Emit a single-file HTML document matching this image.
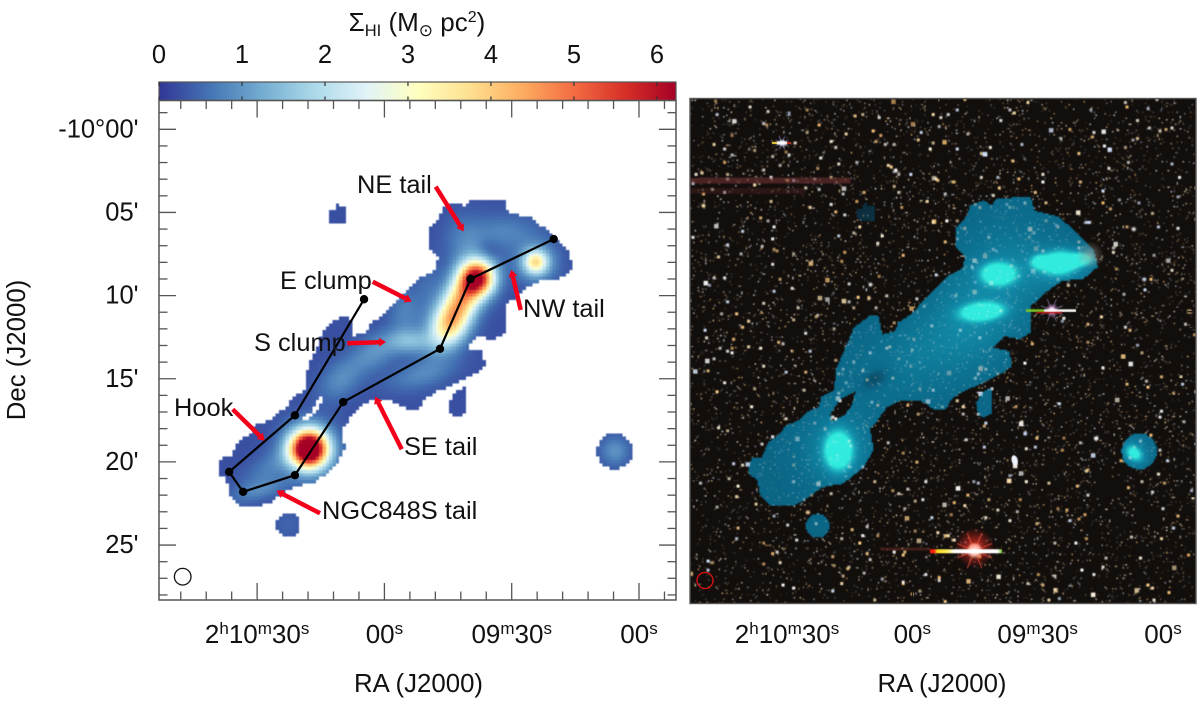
<!DOCTYPE html>
<html lang="en">
<head>
<meta charset="utf-8">
<title>HI surface density map and optical overlay</title>
<style>
html,body{margin:0;padding:0;background:#fff;}
body{width:1200px;height:704px;position:relative;overflow:hidden;font-family:"Liberation Sans",Arial,sans-serif;}
canvas{position:absolute;display:block;}
#heat{image-rendering:pixelated;filter:blur(0.55px);}
#sky{filter:blur(0.35px);}
#overlay{position:absolute;left:0;top:0;}
text{font-family:"Liberation Sans",Arial,"DejaVu Sans",sans-serif;fill:#111;}
</style>
</head>
<body>
<canvas id="heat" width="155" height="150" style="left:159px;top:100px;width:517px;height:500px"></canvas>
<canvas id="sky" width="506" height="505" style="left:690px;top:98px;width:506px;height:505px"></canvas>
<svg id="overlay" width="1200" height="704" viewBox="0 0 1200 704" xmlns="http://www.w3.org/2000/svg">
  <defs>
    <linearGradient id="cbGrad" x1="0" x2="1" y1="0" y2="0"></linearGradient>
    <marker id="redHead" markerUnits="userSpaceOnUse" markerWidth="9" markerHeight="9" refX="0" refY="4.5" orient="auto">
      <path d="M0 0 L7 4.5 L0 9 Z" fill="#f5001a"></path>
    </marker>
  </defs>

  <text x="417" y="31" text-anchor="middle" font-size="26">Σ<tspan font-size="16.5" dy="5">HI</tspan><tspan dy="-5"> (M</tspan><tspan font-size="17" dy="5" font-family="DejaVu Sans">⊙</tspan><tspan dy="-5"> pc</tspan><tspan font-size="16" dy="-9">2</tspan><tspan dy="9">)</tspan></text>
  <rect x="159" y="82" width="517" height="18.5" fill="url(#cbGrad)" stroke="#555" stroke-width="1.2"></rect>
  <g id="cbTicks"></g>

  <g id="leftTicks"></g>
  <rect x="159" y="100.5" width="517" height="499.5" fill="none" stroke="#555" stroke-width="1.5"></rect>
  <g id="rightTicks"></g>
  <rect x="690" y="98.5" width="506" height="505" fill="none" stroke="#555" stroke-width="1.4"></rect>

  <g id="streamline"></g>

  <g stroke="#f5001a" stroke-width="4.5" fill="none">
    <line x1="435.7" y1="186.7" x2="460" y2="225.5" marker-end="url(#redHead)"></line>
    <line x1="372.7" y1="281.7" x2="405.5" y2="298.4" marker-end="url(#redHead)"></line>
    <line x1="520.7" y1="310" x2="512.9" y2="276.7" marker-end="url(#redHead)"></line>
    <line x1="347.3" y1="343.3" x2="379" y2="342.2" marker-end="url(#redHead)"></line>
    <line x1="232.7" y1="409.3" x2="259.7" y2="435.8" marker-end="url(#redHead)"></line>
    <line x1="401.7" y1="449.3" x2="378.3" y2="402.8" marker-end="url(#redHead)"></line>
    <line x1="320" y1="513.3" x2="282.7" y2="494" marker-end="url(#redHead)"></line>
  </g>

  <g font-size="25.4">
    <text x="357" y="193">NE tail</text>
    <text x="280" y="289">E clump</text>
    <text x="254" y="351">S clump</text>
    <text x="523" y="317">NW tail</text>
    <text x="174" y="416">Hook</text>
    <text x="404" y="455">SE tail</text>
    <text x="322" y="519">NGC848S tail</text>
  </g>

  <circle cx="182.7" cy="576.7" r="8.3" fill="none" stroke="#111" stroke-width="1.3"></circle>
  <circle cx="705" cy="580.5" r="8" fill="none" stroke="#e01010" stroke-width="1.3"></circle>

  <g id="leftLabels"></g>
  <g id="rightLabels"></g>

  <text x="418.5" y="692" text-anchor="middle" font-size="25.8">RA (J2000)</text>
  <text x="942" y="692" text-anchor="middle" font-size="25.8">RA (J2000)</text>
  <text transform="translate(25,350) rotate(-90)" text-anchor="middle" font-size="25.8">Dec (J2000)</text>
</svg>

<script>
/* ---------- axis tick values and labels ---------- */
var colorbarTicks = [0, 1, 2, 3, 4, 5, 6];
var colorbarMax = 6.23;
var colormapStops = ['#313695','#4575b4','#74add1','#abd9e9','#e0f3f8','#ffffbf','#fee090','#fdae61','#f46d43','#d73027','#a50026'];
var raMajorTicks = [90, 60, 30, 0];                 /* seconds after 2h09m */
var raTickLabels = [[['2','h'],['10','m'],['30','s']], [['00','s']], [['09','m'],['30','s']], [['00','s']]];
var decMajorTicks = [0, 5, 10, 15, 20, 25];         /* arcmin south of -10 deg */
var decTickLabels = ["-10°00'", "05'", "10'", "15'", "20'", "25'"];

/* ---------- HI outline (RA s, Dec arcmin) ---------- */
var bodyRA  = [99.2,99.3,98.3,96.0,94.5,92.5,90.1,87.0,85.1,82.3,81.9,78.7,78.3,74.0,69.8,68.1,67.2,64.2,63.4,60.3,57.1,54.0,51.6,48.1,47.4,49.7,49.7,46.9,46.2,43.0,41.0,39.8,31.6,30.9,25.0,20.3,16.7,15.6,19.1,24.1,28.0,31.6,31.6,34.4,37.9,40.6,36.8,36.1,37.9,41.5,47.7,50.4,52.1,54.7,57.5,62.7,66.2,68.6,70.1,69.3,71.6,76.4,81.5,86.6,88.6,94.0,96.4,97.2];
var bodyDec = [20.67,20.29,19.77,19.71,18.79,18.49,17.79,17.49,16.99,16.69,16.09,15.69,14.48,11.96,11.18,11.30,12.38,12.20,11.66,11.18,10.28,9.48,8.88,8.47,7.75,7.15,6.07,5.27,4.67,4.37,4.67,4.27,4.15,4.97,5.35,6.37,7.27,8.35,9.07,9.18,9.86,10.68,12.26,12.68,12.48,13.16,13.38,14.28,14.60,15.08,15.79,16.17,16.89,16.89,16.39,16.29,16.77,17.59,17.97,19.29,20.29,21.27,21.50,22.40,22.60,22.60,22.00,21.09];
var holeRA  = [74.5,74.2,75.7,78.2,79.2,76.8,75.7];
var holeDec = [15.93,16.29,16.77,17.49,17.37,16.89,16.17];
var skyHoleRA  = [73.7,74.4,76.1,79.2,79.7,77.3];
var skyHoleDec = [15.78,16.56,17.15,17.57,17.15,16.26];
var northBlobRA  = [73.3,71.9,71.6,70.7,70.7,69.1,69.1,72.4,73.3];
var northBlobDec = [4.87,4.87,4.51,4.51,4.69,4.69,5.65,5.65,5.41];
var seBlobRA  = [41.0,40.8,42.7,44.1,44.8,43.4];
var seBlobDec = [15.5,17.07,17.31,17.25,16.47,15.87];
var roundBlobRA  = [82.7, 5.7];
var roundBlobDec = [23.8, 19.35];
var roundBlobRadius = [0.72, 1.08];

/* ---------- HI surface-density components (Msun/pc2) ---------- */
var hiBaseLevel = 0.25;
var hiCompRA    = [38.2,41.5,44.5,42.2,24.3,24.3,41,30.4,54,55.1,49.7,62.2,70.5,51.6,87,88.9,77.8,77.8,5.7,82.7,35.6];
var hiCompDec   = [8.95,10.1,11.65,10.28,7.99,7.99,6.67,6.19,12.74,11,9.38,13.4,15.1,14.78,20.37,21.7,19.23,19.23,19.35,23.8,7.27];
var hiCompWidth = [.72,.7,.72,.9,.45,.85,.85,1.3,.9,.7,.6,1.2,1,1.5,1.5,1.2,.76,1.2,.6,.6,.5];
var hiCompLength= [.72,.85,1.0,2.6,.45,.8,1.1,.7,.5,1,1.2,.7,.7,.55,.6,.4,.76,1.2,.6,.6,.5];
var hiCompAngle = [0,27,27,27,0,0,0,0,0,0,0,-30,-40,-15,-35,-15,0,0,0,0,0];
var hiCompPeak  = [5.6,2.4,3.3,.7,2.4,1.2,.5,.45,1.0,.5,.25,.7,.6,.5,.45,.5,7.5,.7,.7,.2,-.35];

/* ---------- optical overlay brightness components (0..1) ---------- */
var skyBaseLevel = 0.2;
var skyCompRA    = [39.4,43.3,77.7,24.7,19.9,29.4,42,77.7,25,55,68.7,6.9,6.9,71.5];
var skyCompDec   = [8.77,11.02,19.3,8.1,7.92,8.05,10,19.3,8.4,13,15,19.47,19.47,5.1];
var skyCompWidth = [.6,.75,.48,.65,.45,.35,1.8,1.4,2,3.5,.7,.35,.7,.7];
var skyCompLength= [.38,.3,.65,.4,.22,.25,3,1.4,1,1.5,.4,.25,.7,.7];
var skyCompAngle = [0,-5,0,-5,-5,-5,27,0,0,-30,-30,40,0,0];
var skyCompPeak  = [1.8,1.8,1.8,1.6,1.5,1.0,.22,.3,.22,.15,-.15,.8,.25,-.25];

/* ---------- filament path nodes ---------- */
var streamRA  = [64.8,81.1,96.6,93.3,81.1,69.7,46.9,39.7,20.1];
var streamDec = [10.22,17.2,20.6,21.8,20.8,16.4,13.2,9.0,6.6];

/* ---------- named bright objects in the optical frame ---------- */
var brightStarRA    = [91.2,35.5,26.6,45.1,4.5,64,110,70,16,85,33,7];
var brightStarDec   = [0.95,19.87,10.92,25.24,9.1,2.6,4.7,9.4,18.6,23,18.3,6.1];
var brightStarSize  = [3,2.5,3,6,2,2,2,1.8,2.2,2,2,2];
var brightStarColor = ['#e8f0ff','#f4f6ff','#ffffff','#ffffff','#dde8ff','#ffffff','#ffe9b0','#ffffff','#ffffff','#ffd9a0','#cfe0ff','#ffffff'];

/* ---------- axis functions ---------- */
function xL(ra){return 639-4.243*ra;}
function yL(dec){return 129.3+16.63*dec;}
function xR(ra){return 1163-4.178*ra;}
function yR(dec){return 127+16.79*dec;}
function raFromXL(x){return (639-x)/4.243;}
function decFromYL(y){return (y-129.3)/16.63;}
function raFromXR(x){return (1163-x)/4.178;}
function decFromYR(y){return (y-127)/16.79;}
function xCb(v){return 159+v*(517/colorbarMax);}

var SVGNS='http://www.w3.org/2000/svg';

/* ---------- colour helpers ---------- */
function hexRgb(h){return [parseInt(h.substr(1,2),16),parseInt(h.substr(3,2),16),parseInt(h.substr(5,2),16)];}
var stopRgb=colormapStops.map(hexRgb);
function colormap(v){
  var t=Math.max(0,Math.min(1,v/colorbarMax))*(stopRgb.length-1);
  var i=Math.min(stopRgb.length-2,Math.floor(t)),f=t-i;
  return [0,1,2].map(function(k){return stopRgb[i][k]+(stopRgb[i+1][k]-stopRgb[i][k])*f;});
}

/* ---------- mask and field evaluation ---------- */
function inPoly(ra,dec,ras,decs){
  var c=false;
  for(var i=0,j=ras.length-1;i<ras.length;j=i++){
    if((decs[i]>dec)!==(decs[j]>dec) && ra<(ras[j]-ras[i])*(dec-decs[i])/(decs[j]-decs[i])+ras[i]) c=!c;
  }
  return c;
}
function inMask(ra,dec){
  if(inPoly(ra,dec,bodyRA,bodyDec)&&!inPoly(ra,dec,holeRA,holeDec)) return true;
  if(inPoly(ra,dec,northBlobRA,northBlobDec)) return true;
  if(inPoly(ra,dec,seBlobRA,seBlobDec)) return true;
  for(var i=0;i<roundBlobRA.length;i++){
    var dx=(ra-roundBlobRA[i])*0.255,dy=dec-roundBlobDec[i];
    if(dx*dx+dy*dy<roundBlobRadius[i]*roundBlobRadius[i]) return true;
  }
  return false;
}
function sumField(ra,dec,base,cra,cdec,cw,cl,ca,cp){
  var v=base;
  for(var i=0;i<cra.length;i++){
    var dx=-(ra-cra[i])*0.255,dy=dec-cdec[i],a=ca[i]*Math.PI/180;
    var u=dx*Math.cos(a)+dy*Math.sin(a),w=-dx*Math.sin(a)+dy*Math.cos(a);
    v+=cp[i]*Math.exp(-0.5*(u*u/(cw[i]*cw[i])+w*w/(cl[i]*cl[i])));
  }
  return v;
}

/* ---------- left heat map ---------- */
(function(){
  var cv=document.getElementById('heat'),ctx=cv.getContext('2d');
  var img=ctx.createImageData(cv.width,cv.height),d=img.data;
  for(var j=0;j<cv.height;j++){
    for(var i=0;i<cv.width;i++){
      var px=159+(i+.5)*517/cv.width,py=100+(j+.5)*500/cv.height;
      var ra=raFromXL(px),dec=decFromYL(py),o=(j*cv.width+i)*4;
      if(inMask(ra,dec)){
        var c=colormap(sumField(ra,dec,hiBaseLevel,hiCompRA,hiCompDec,hiCompWidth,hiCompLength,hiCompAngle,hiCompPeak));
        d[o]=c[0];d[o+1]=c[1];d[o+2]=c[2];d[o+3]=255;
      } else {
        d[o]=255;d[o+1]=255;d[o+2]=255;d[o+3]=255;
      }
    }
  }
  ctx.putImageData(img,0,0);
})();

/* ---------- right panel: optical frame with overlay ---------- */
(function(){
  var cv=document.getElementById('sky'),ctx=cv.getContext('2d');
  var LW=337,LS=LW/506;
  var low=document.createElement('canvas');low.width=LW;low.height=LW;
  var lc=low.getContext('2d');
  lc.fillStyle='#120e0c';lc.fillRect(0,0,LW,LW);
  /* decorative star-field texture only: a fixed generator, not chart data */
  var s=48271;
  function rnd(){s=(s*16807)%2147483647;return s/2147483647;}
  var tints=['255,255,255','255,255,255','255,245,225','255,230,180','255,210,140','250,195,120','215,230,255'];
  for(var n=0;n<7500;n++){
    var x=Math.floor(rnd()*LW),y=Math.floor(rnd()*LW),t=tints[Math.floor(rnd()*tints.length)],b=rnd(),r=rnd();
    var size=r>.992?3:(r>.93?2:1);
    var al=size>1?(0.6+b*0.4):(0.18+b*b*0.62);
    lc.fillStyle='rgba('+t+','+al.toFixed(2)+')';
    lc.fillRect(x,y,size,size);
  }
  /* horizontal diffraction trails */
  lc.fillStyle='rgba(120,55,55,.55)';lc.fillRect(0,53,107,4);
  lc.fillStyle='rgba(80,35,35,.4)';lc.fillRect(0,60,77,4);
  lc.fillStyle='rgba(110,45,35,.5)';lc.fillRect(127,300,33,2);
  /* overlay pixels */
  var img=lc.getImageData(0,0,LW,LW),d=img.data;
  for(var j=0;j<LW;j++){
    for(var i=0;i<LW;i++){
      var px=690+(i+.5)/LS,py=98+(j+.5)/LS;
      var ra=raFromXR(px),dec=decFromYR(py);
      if(!inMask(ra,dec)||inPoly(ra,dec,skyHoleRA,skyHoleDec)) continue;
      var v=sumField(ra,dec,skyBaseLevel,skyCompRA,skyCompDec,skyCompWidth,skyCompLength,skyCompAngle,skyCompPeak);
      v=Math.max(0,Math.min(1,v));
      var mix=Math.min(1,.5+v*2.4),c;
      if(v<.5){var a=v/.5;c=[6+12*a,78+62*a,112+58*a];}
      else{var e=(v-.5)/.5;c=[18+30*e,140+95*e,170+52*e];}
      var o=(j*LW+i)*4;
      for(var k=0;k<3;k++){
        var raw=d[o+k],bg=Math.max(0,raw-20)*0.6;
        var sc=255-(255-c[k])*(255-bg)/255;
        d[o+k]=raw*(1-mix)+sc*mix;
      }
    }
  }
  lc.putImageData(img,0,0);
  /* bright named objects */
  for(var b2=0;b2<brightStarRA.length;b2++){
    lc.fillStyle=brightStarColor[b2];
    lc.beginPath();
    lc.arc((xR(brightStarRA[b2])-690)*LS,(yR(brightStarDec[b2])-98)*LS,brightStarSize[b2]*LS,0,6.3);
    lc.fill();
  }
  ctx.imageSmoothingEnabled=true;
  ctx.drawImage(low,0,0,506,505);

  /* haze at the eastern tip */
  var hz=ctx.createRadialGradient(400,157,1,400,157,14);
  hz.addColorStop(0,'rgba(170,165,150,.55)');hz.addColorStop(1,'rgba(170,165,150,0)');
  ctx.fillStyle=hz;ctx.fillRect(384,140,32,34);

  /* saturated star at the bottom */
  function glow(x,y,r,c0,c1){
    var g=ctx.createRadialGradient(x,y,0,x,y,r);
    g.addColorStop(0,c0);g.addColorStop(1,c1);
    ctx.fillStyle=g;ctx.beginPath();ctx.arc(x,y,r,0,6.3);ctx.fill();
  }
  function spikes(x,y,len,col,w){
    ctx.strokeStyle=col;ctx.lineWidth=w;
    for(var a=0;a<8;a++){
      var an=a*Math.PI/4+Math.PI/8;
      ctx.beginPath();ctx.moveTo(x,y);ctx.lineTo(x+Math.cos(an)*len,y+Math.sin(an)*len);ctx.stroke();
    }
  }
  var bx=xR(brightStarRA[3])-690,by=yR(brightStarDec[3])-98;
  glow(bx,by-3,20,'rgba(255,60,40,.85)','rgba(255,40,30,0)');
  spikes(bx,by,19,'rgba(255,90,70,.65)',1.2);
  glow(bx,by,8,'rgba(255,255,255,1)','rgba(255,255,220,.1)');
  var g1=ctx.createLinearGradient(240,0,312,0);
  g1.addColorStop(0,'#ff1a10');g1.addColorStop(.06,'#ff2a10');g1.addColorStop(.1,'#ffe020');g1.addColorStop(.24,'#fff060');g1.addColorStop(.34,'#ffffff');g1.addColorStop(.94,'#ffffff');g1.addColorStop(1,'#70c020');
  ctx.fillStyle=g1;ctx.fillRect(240,by-1.5,72,4);

  /* saturated star on the north-west edge */
  var cx=xR(brightStarRA[2])-690,cy=yR(brightStarDec[2])-98;
  spikes(cx,cy,12,'rgba(200,200,255,.5)',1);
  glow(cx,cy,7,'rgba(255,255,255,1)','rgba(255,120,255,0)');
  ctx.fillStyle='#7ac828';ctx.fillRect(336,cy-1,18,2.5);
  ctx.fillStyle='#ffffff';ctx.fillRect(354,cy-1,32,2.5);
  ctx.fillStyle='#c01010';ctx.fillRect(346,cy+1.5,26,1.5);

  /* saturated star top left */
  var tx=xR(brightStarRA[0])-690,ty=yR(brightStarDec[0])-98;
  spikes(tx,ty,7,'rgba(180,180,255,.6)',1);
  ctx.fillStyle='#ffe040';ctx.fillRect(tx-10,ty-1,6,2);
  ctx.fillStyle='#ffffff';ctx.fillRect(tx-5,ty-1.5,10,3);
  ctx.fillStyle='#d03020';ctx.fillRect(tx+5,ty-1,4,2);

  /* elongated galaxy */
  var ex=xR(brightStarRA[1])-690,ey=yR(brightStarDec[1])-98;
  ctx.fillStyle='#f0f4ff';ctx.beginPath();ctx.ellipse(ex,ey,3,5.5,-.25,0,6.3);ctx.fill();
})();

/* ---------- colorbar gradient and ticks ---------- */
var cbGrad=document.getElementById('cbGrad');
colormapStops.forEach(function(col,i){
  var st=document.createElementNS(SVGNS,'stop');
  st.setAttribute('offset',(i/(colormapStops.length-1)));
  st.setAttribute('stop-color',col);
  cbGrad.appendChild(st);
});
function addLine(parent,x1,y1,x2,y2,col,w){
  var el=document.createElementNS(SVGNS,'line');
  el.setAttribute('x1',x1);el.setAttribute('y1',y1);el.setAttribute('x2',x2);el.setAttribute('y2',y2);
  el.setAttribute('stroke',col);el.setAttribute('stroke-width',w);
  
  
  parent.appendChild(el);
}
var cbT=document.getElementById('cbTicks');
colorbarTicks.forEach(function(v){
  addLine(cbT,xCb(v),82,xCb(v),86,'#333',1.2);
  addLine(cbT,xCb(v),96.5,xCb(v),100.5,'#333',1.2);
  var el=document.createElementNS(SVGNS,'text');
  el.setAttribute('x',xCb(v));
  el.setAttribute('y',63);
  el.setAttribute('text-anchor','middle');
  el.setAttribute('font-size','25.5');
  el.textContent=String(v);
  
  
  cbT.appendChild(el);
});

/* ---------- panel ticks ---------- */
function drawTicks(gid,xf,yf,left,right,top,bottom,col,w){
  var g=document.getElementById(gid);
  for(var ra=-6;ra<=114;ra+=6){
    var x=xf(ra);
    if(x<=left+1||x>=right-1) continue;
    var len=(ra%30===0)?17:8.5;
    addLine(g,x,top,x,top+len,col,w);
    addLine(g,x,bottom,x,bottom-len,col,w);
  }
  for(var dec=-1;dec<=28;dec++){
    var y=yf(dec);
    if(y<=top+1||y>=bottom-1) continue;
    var ln=(dec%5===0)?17:8.5;
    addLine(g,left,y,left+ln,y,col,w);
    addLine(g,right,y,right-ln,y,col,w);
  }
}
drawTicks('leftTicks',xL,yL,159,676,100.5,600,'#555',1.3);
drawTicks('rightTicks',xR,yR,690,1196,98.5,603.5,'#111',1.2);

/* ---------- tick labels ---------- */
function raLabel(parent,x,parts){
  var el=document.createElementNS(SVGNS,'text');
  el.setAttribute('x',x);
  el.setAttribute('y',643);
  el.setAttribute('text-anchor','middle');
  el.setAttribute('font-size','26');
  
  
  var shift=0;
  parts.forEach(function(p){
    var a=document.createElementNS(SVGNS,'tspan');
    a.setAttribute('dy',-shift);
    a.textContent=p[0];
    el.appendChild(a);
    var b=document.createElementNS(SVGNS,'tspan');
    b.setAttribute('dy',-9);
    b.setAttribute('font-size','17');
    b.textContent=p[1];
    el.appendChild(b);
    shift=-9;
  });
  parent.appendChild(el);
}
var leftLab=document.getElementById('leftLabels'),rightLab=document.getElementById('rightLabels');
raMajorTicks.forEach(function(ra,i){
  raLabel(leftLab,xL(ra),raTickLabels[i]);
  raLabel(rightLab,xR(ra),raTickLabels[i]);
});
decMajorTicks.forEach(function(dec,i){
  var el=document.createElementNS(SVGNS,'text');
  el.setAttribute('x',138.5);
  el.setAttribute('y',yL(dec)+8);
  el.setAttribute('text-anchor','end');
  el.setAttribute('font-size','25.5');
  el.textContent=decTickLabels[i];
  
  
  leftLab.appendChild(el);
});

/* ---------- filament polyline and nodes ---------- */
var sg=document.getElementById('streamline');
var pl=document.createElementNS(SVGNS,'polyline');
pl.setAttribute('points',streamRA.map(function(r,i){return xL(r)+','+yL(streamDec[i]);}).join(' '));
pl.setAttribute('fill','none');
pl.setAttribute('stroke','#000');
pl.setAttribute('stroke-width','2.2');


sg.appendChild(pl);
streamRA.forEach(function(r,i){
  var c=document.createElementNS(SVGNS,'circle');
  c.setAttribute('cx',xL(r));
  c.setAttribute('cy',yL(streamDec[i]));
  c.setAttribute('r',4.2);
  c.setAttribute('fill','#000');
  
  
  sg.appendChild(c);
});
</script>
</body>
</html>
